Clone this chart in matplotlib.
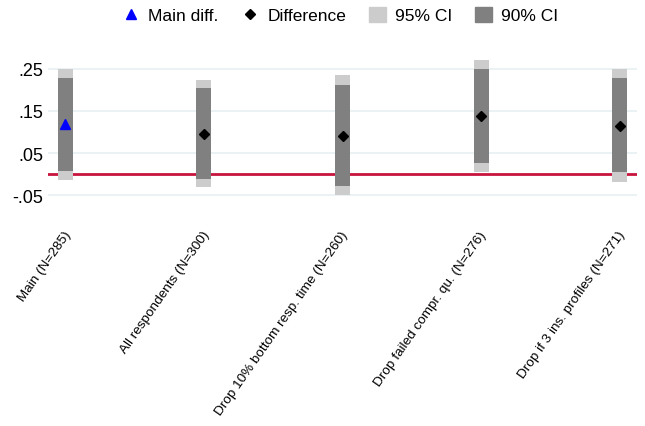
from matplotlib import pyplot as plt
from matplotlib.lines import Line2D
from matplotlib.patches import Patch
from matplotlib.transforms import ScaledTranslation
import numpy as np

plt.rcParams["font.family"] = ["Liberation Sans", "DejaVu Sans"]

# robustness checks, values
labels = ["Main (N=285)", "All respondents (N=300)",
          "Drop 10% bottom resp. time (N=260)",
          "Drop failed compr. qu. (N=276)",
          "Drop if 3 ins. profiles (N=271)"]
diff = [0.119, 0.095, 0.091, 0.137, 0.115]
ci95_lo = [-0.013, -0.030, -0.049, 0.006, -0.018]
ci95_hi = [0.249, 0.223, 0.235, 0.270, 0.249]
ci90_lo = [0.007, -0.012, -0.027, 0.026, 0.006]
ci90_hi = [0.228, 0.204, 0.211, 0.249, 0.228]

yticks = [-0.05, 0.05, 0.15, 0.25]
ytick_labels = ["-.05", ".05", ".15", ".25"]

light = "#cccccc"
dark = "#808080"
red = "#c8143c"

W, H = 645, 427
fig = plt.figure(figsize=(W / 100, H / 100), dpi=100)
ax = fig.add_axes([48 / W, 1 - 215 / H, (637 - 48) / W, (215 - 55) / H])

x = np.arange(1, len(labels) + 1)
lo95, hi95 = np.array(ci95_lo), np.array(ci95_hi)
lo90, hi90 = np.array(ci90_lo), np.array(ci90_hi)
w = .108

ax.axhline(0, color=red, lw=2, zorder=1.5)
ax.bar(x, hi95 - lo95, w, bottom=lo95, color=light, zorder=2)
ax.bar(x, hi90 - lo90, w, bottom=lo90, color=dark, zorder=3)

ax.plot(x[:1], diff[:1], "^", color="#0000ff", ms=7, zorder=4)
ax.plot(x[1:], diff[1:], "D", color="black", ms=5.5, zorder=4)

ax.set_xlim(0.874, 5.126)
ax.set_ylim(-0.0945, 0.2846)
ax.set_yticks(yticks, ytick_labels, fontsize=13)
ax.set_xticks(x, labels, fontsize=9.7, rotation=55, ha="right",
              va="center", rotation_mode="anchor")
ax.tick_params(axis="y", length=0, pad=3.6)
ax.tick_params(axis="x", length=0, pad=13)
# nudge the rotated labels a little to the right
shift = ScaledTranslation(3 / 100, 0, fig.dpi_scale_trans)
for lbl in ax.get_xticklabels():
    lbl.set_transform(lbl.get_transform() + shift)
ax.grid(axis="y", color="#e8f0f2", lw=1.2, zorder=0)
ax.set_axisbelow(True)
for s in ax.spines.values():
    s.set_visible(False)

handles = [
    Line2D([], [], marker="^", ls="", color="#0000ff", ms=7),
    Line2D([], [], marker="D", ls="", color="black", ms=5.5),
    Patch(color=light),
    Patch(color=dark),
]
fig.legend(handles, ["Main diff.", "Difference", "95% CI", "90% CI"],
           loc="center", bbox_to_anchor=(340 / W, 1 - 16 / H), ncol=4,
           frameon=False, fontsize=12.5, handlelength=1.0, handleheight=1.0,
           handletextpad=0.5, columnspacing=1.3)

fig.savefig("out.png", dpi=100)
